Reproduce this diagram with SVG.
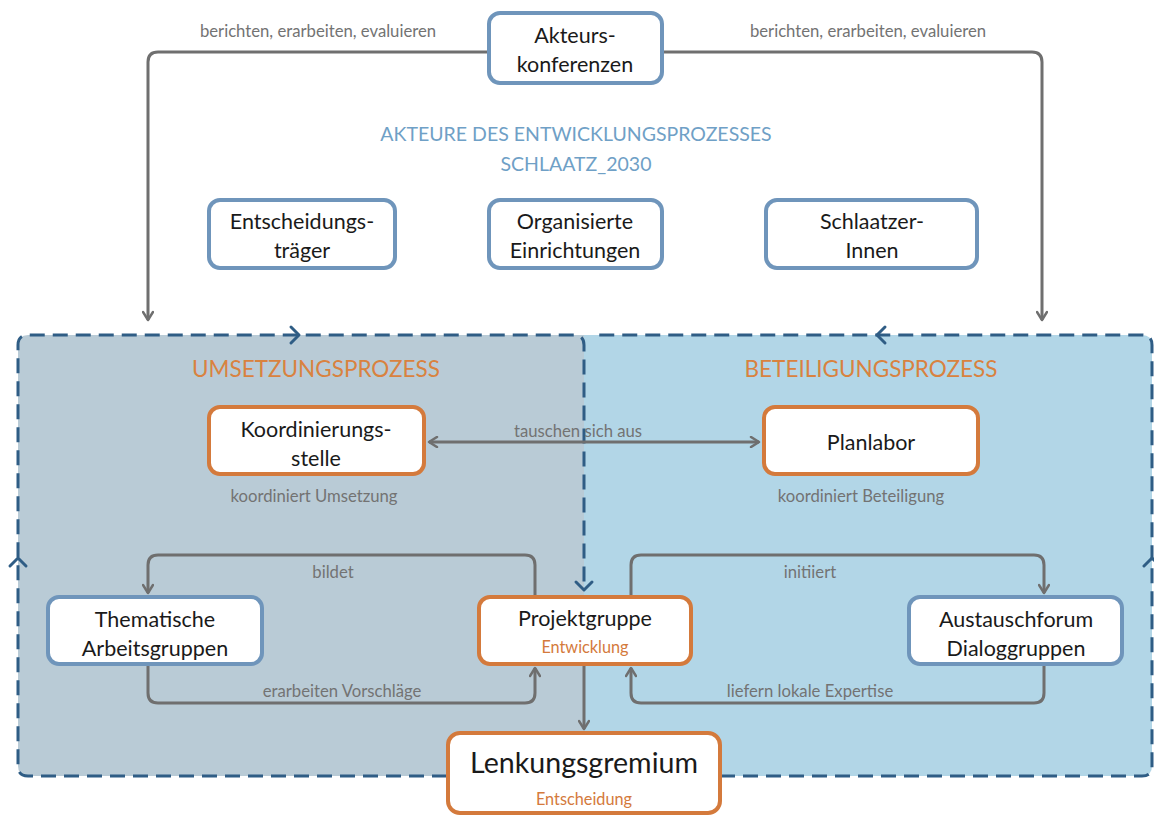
<svg xmlns="http://www.w3.org/2000/svg" width="1154" height="816" viewBox="0 0 1154 816">
<defs>
<style>
.t{font-family:Lato,"Open Sans","Liberation Sans",sans-serif;}
.bx{fill:#fff;stroke-width:4;}
.blue{stroke:#6f95bb;}
.orange{stroke:#d47a3c;}
.nt{font-size:21.5px;fill:#1a1a1a;text-anchor:middle;}
.lb{font-size:16.7px;fill:#737373;text-anchor:middle;}
.hd{font-size:22.5px;fill:#d9823f;text-anchor:middle;}
.ti{font-size:19.5px;fill:#6fa0c6;text-anchor:middle;}
.sub{font-size:16.3px;fill:#d47a3c;text-anchor:middle;}
.cn{fill:none;stroke:#6f6f6f;stroke-width:3;}
.ds{fill:none;stroke:#2f5d85;stroke-width:3;stroke-dasharray:15 8;}
.ch{fill:none;stroke:#2f5d85;stroke-width:3;stroke-linecap:round;stroke-linejoin:round;}
</style>
<marker id="ah" viewBox="0 0 12 12" refX="10" refY="6" markerWidth="12" markerHeight="12" markerUnits="userSpaceOnUse" orient="auto-start-reverse">
<path d="M2,1 L10,6 L2,11" fill="none" stroke="#6f6f6f" stroke-width="2.5" stroke-linecap="round" stroke-linejoin="round"/>
</marker>
</defs>
<rect width="1154" height="816" fill="#fff"/>

<g id="regions">
<path d="M28,335 H584 V776 H28 Q18,776 18,766 V345 Q18,335 28,335 Z" fill="#b9cbd6"/>
<path d="M584,335 H1142 Q1152,335 1152,345 V766 Q1152,776 1142,776 H584 Z" fill="#b2d6e7"/>
<path class="ds" d="M447,776 H28 Q18,776 18,766 V345 Q18,335 28,335 H574 Q584,335 584,345 V586"/>
<path class="ds" d="M720,776 H1142 Q1152,776 1152,766 V345 Q1152,335 1142,335 H592"/>
<path class="ch" d="M291,327 L299,335 L291,343"/>
<path class="ch" d="M885,327 L877,335 L885,343"/>
<path class="ch" d="M10,566 L18,558 L26,566"/>
<path class="ch" d="M1144,566 L1152,558 L1160,566"/>
<path class="ch" d="M576,582 L584,590 L592,582"/>
<text class="t hd" x="316" y="377">UMSETZUNGSPROZESS</text>
<text class="t hd" x="871" y="377">BETEILIGUNGSPROZESS</text>
</g>

<text class="t ti" x="576" y="141">AKTEURE DES ENTWICKLUNGSPROZESSES</text>
<text class="t ti" x="576" y="171">SCHLAATZ_2030</text>

<g id="connectors">
<path class="cn" d="M488,52 H158 Q148,52 148,62 V320" marker-end="url(#ah)"/>
<path class="cn" d="M662,52 H1032 Q1042,52 1042,62 V320" marker-end="url(#ah)"/>
<text class="t lb" x="318" y="37">berichten, erarbeiten, evaluieren</text>
<text class="t lb" x="868" y="37">berichten, erarbeiten, evaluieren</text>
<path class="cn" d="M429,442 H759" marker-start="url(#ah)" marker-end="url(#ah)"/>
<text class="t lb" x="578" y="437">tauschen sich aus</text>
<path class="cn" d="M535,596 V565 Q535,555 525,555 H158 Q148,555 148,565 V593" marker-end="url(#ah)"/>
<text class="t lb" x="333" y="578">bildet</text>
<path class="cn" d="M148,664 V693 Q148,703 158,703 H525 Q535,703 535,693 V668" marker-end="url(#ah)"/>
<text class="t lb" x="342" y="697">erarbeiten Vorschläge</text>
<path class="cn" d="M631,596 V565 Q631,555 641,555 H1034 Q1044,555 1044,565 V593" marker-end="url(#ah)"/>
<text class="t lb" x="810" y="578">initiiert</text>
<path class="cn" d="M1044,664 V693 Q1044,703 1034,703 H641 Q631,703 631,693 V668" marker-end="url(#ah)"/>
<text class="t lb" x="810" y="697">liefern lokale Expertise</text>
<path class="cn" d="M584,665 V729" marker-end="url(#ah)"/>
</g>

<g id="akteurskonferenzen">
<rect class="bx blue" x="489" y="13" width="173" height="70" rx="11"/>
<text class="t nt" x="575" y="43">Akteurs-</text>
<text class="t nt" x="575" y="72">konferenzen</text>
</g>
<g id="entscheidungstraeger">
<rect class="bx blue" x="209" y="200" width="186" height="68" rx="11"/>
<text class="t nt" x="302" y="229">Entscheidungs-</text>
<text class="t nt" x="302" y="258">träger</text>
</g>
<g id="organisierte">
<rect class="bx blue" x="489" y="200" width="173" height="68" rx="11"/>
<text class="t nt" x="575" y="229">Organisierte</text>
<text class="t nt" x="575" y="258">Einrichtungen</text>
</g>
<g id="schlaatzer">
<rect class="bx blue" x="766" y="200" width="211" height="68" rx="11"/>
<text class="t nt" x="872" y="229">Schlaatzer-</text>
<text class="t nt" x="872" y="258">Innen</text>
</g>
<g id="koordinierungsstelle">
<rect class="bx orange" x="209" y="407" width="215" height="67" rx="11"/>
<text class="t nt" x="316" y="437">Koordinierungs-</text>
<text class="t nt" x="316" y="466">stelle</text>
<text class="t lb" x="314" y="502">koordiniert Umsetzung</text>
</g>
<g id="planlabor">
<rect class="bx orange" x="764" y="407" width="214" height="67" rx="11"/>
<text class="t nt" x="871" y="450">Planlabor</text>
<text class="t lb" x="861" y="502">koordiniert Beteiligung</text>
</g>
<g id="thematische">
<rect class="bx blue" x="48" y="597" width="214" height="67" rx="11"/>
<text class="t nt" x="155" y="627">Thematische</text>
<text class="t nt" x="155" y="656">Arbeitsgruppen</text>
</g>
<g id="projektgruppe">
<rect class="bx orange" x="479" y="597" width="212" height="67" rx="11"/>
<text class="t nt" x="585" y="626">Projektgruppe</text>
<text class="t sub" x="585" y="653">Entwicklung</text>
</g>
<g id="austauschforum">
<rect class="bx blue" x="909" y="597" width="213" height="67" rx="11"/>
<text class="t nt" x="1016" y="627">Austauschforum</text>
<text class="t nt" x="1016" y="656">Dialoggruppen</text>
</g>
<g id="lenkungsgremium">
<rect class="bx orange" x="448" y="733" width="272" height="80" rx="12"/>
<text class="t" x="584" y="773" font-size="28.6" fill="#1a1a1a" text-anchor="middle">Lenkungsgremium</text>
<text class="t sub" x="584" y="805">Entscheidung</text>
</g>
</svg>
